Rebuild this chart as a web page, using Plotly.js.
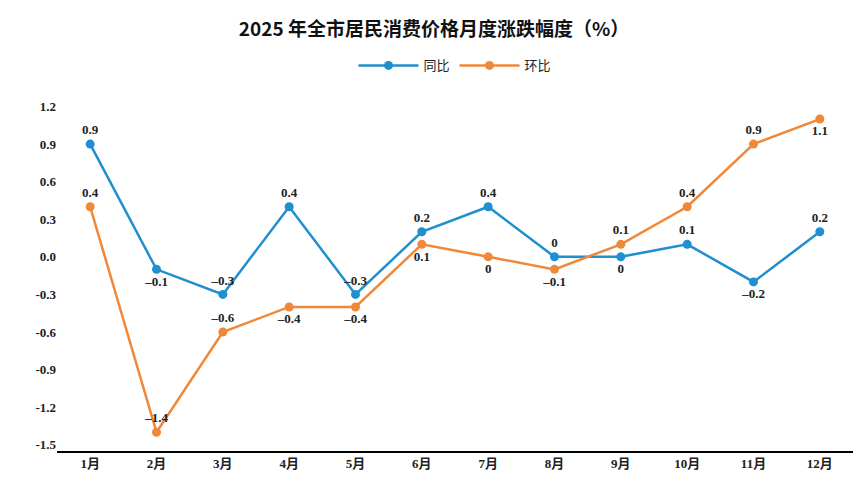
<!DOCTYPE html>
<html><head><meta charset="utf-8">
<script src="https://cdn.plot.ly/plotly-3.0.1.min.js"></script>
<style>body{margin:0}</style></head>
<body><div id="c" style="width:868px;height:494px"></div>
<script>
const months = ['1月','2月','3月','4月','5月','6月','7月','8月','9月','10月','11月','12月'];
const yoy = [0.9,-0.1,-0.3,0.4,-0.3,0.2,0.4,0,0,0.1,-0.2,0.2];
const mom = [0.4,-1.4,-0.6,-0.4,-0.4,0.1,0,-0.1,0.1,0.4,0.9,1.1];
const yoyPos = ['top','bottom','top','top','top','top','top','top','bottom','top','bottom','top'];
const momPos = ['top','top','top','bottom','bottom','bottom','bottom','bottom','top','top','top','bottom'];
const tickVals = [-1.5,-1.2,-0.9,-0.6,-0.3,0,0.3,0.6,0.9,1.2];
const lbl = v => '<b>'+String(v).replace('-','\u2013')+'</b>';
const tf = {family:'Liberation Serif, Times New Roman, serif', size:13, color:'#222'};
const mk = (name, y, pos, col) => ({x:months, y, name, type:'scatter', mode:'lines+markers+text',
  line:{color:col,width:2.5}, marker:{color:col,size:9}, text:y.map(lbl), textposition:pos,
  textfont:tf, cliponaxis:false});
Plotly.newPlot('c',[mk('同比',yoy,yoyPos,'#1f8fcf'),mk('环比',mom,momPos,'#f0883a')],{
  width:868,height:494,margin:{l:57,r:15,t:94,b:43},
  paper_bgcolor:'#fff',plot_bgcolor:'#fff',
  title:{text:'<b>2025 年全市居民消费价格月度涨跌幅度（%）</b>',x:0.5,y:0.955,xanchor:'center',
    font:{family:'Noto Sans CJK SC, sans-serif',size:19,color:'#111'}},
  legend:{orientation:'h',x:0.5,xanchor:'center',y:1.08,yanchor:'middle',itemwidth:60,
    font:{family:'Noto Sans CJK SC, sans-serif',size:13,color:'#222'}},
  xaxis:{range:[-0.5,11.5],showline:true,linecolor:'#000',linewidth:1.5,showgrid:false,ticks:'',
    tickvals:months,ticktext:months.map(m=>'<b>'+m+'</b>'),
    tickfont:{family:'Liberation Serif, Noto Sans CJK SC, serif',size:13,color:'#222'}},
  yaxis:{range:[-1.55,1.3],tickvals:tickVals,ticktext:tickVals.map(v=>'<b>'+v.toFixed(1)+'</b>'),
    showgrid:false,zeroline:false,showline:false,
    tickfont:{family:'Liberation Serif, serif',size:13,color:'#222'}},
  font:{family:'Liberation Serif, serif'}
},{displayModeBar:false});
</script></body></html>
